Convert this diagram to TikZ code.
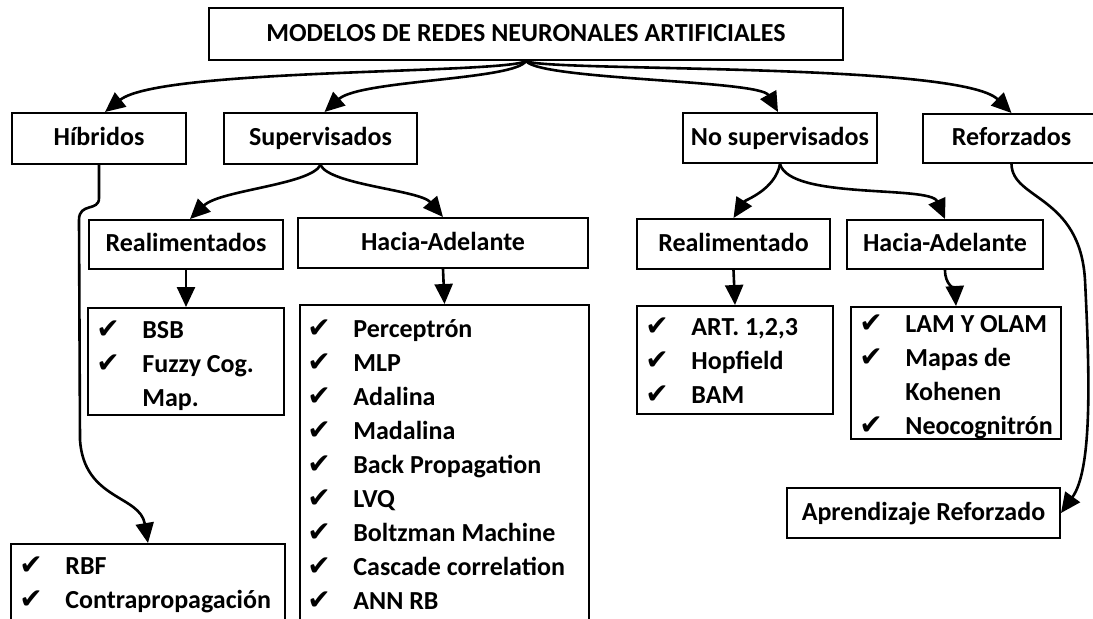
\documentclass[tikz,border=0pt]{standalone}
\usepackage{fontspec}
\setmainfont{Carlito}
\newfontfamily\chkfont{DejaVu Sans}
\usepackage{tikz}
\usetikzlibrary{arrows.meta, positioning}
\tikzstyle{block} = [draw, rectangle, line width=1pt, inner sep=0pt,
    text height=9.5pt, text depth=2.5pt,
    font=\bfseries\fontsize{13}{17}\selectfont]
\tikzstyle{listbox} = [draw, rectangle, line width=1pt, inner sep=0pt,
    anchor=north west]
\tikzstyle{itemtext} = [anchor=base west, inner sep=0pt, text width=140pt,
    align=flush left, font=\bfseries\fontsize{13}{17}\selectfont]
\tikzstyle{conn} = [line width=1.3pt, -{Triangle[length=10pt, width=9pt]}]
\newcommand{\ck}{\makebox[23pt][l]{\chkfont\fontsize{14}{14}\selectfont ✔}}
\newcommand{\nock}{\makebox[23pt]{}}

\begin{document}
\begin{tikzpicture}[x=0.5pt, y=-0.5pt]
        \useasboundingbox (0,0) rectangle (1093,618);
        \clip (0,0) rectangle (1093,618);

        \node[block, name=title, minimum width=317pt, minimum height=26pt] at (526,34) {MODELOS DE REDES NEURONALES ARTIFICIALES};

        \node[block, name=hib, minimum width=87pt, minimum height=25.5pt] at (99,138.5) {Híbridos};
        \node[block, name=sup, minimum width=96.5pt, minimum height=25.5pt] at (320.5,138.5) {Supervisados};
        \node[block, name=nosup, minimum width=97pt, minimum height=25pt] at (780,138) {No supervisados};
        \node[block, name=ref, minimum width=88.5pt, minimum height=24.5pt] at (1011.5,138.5) {Reforzados};

        \node[block, name=realS, minimum width=97pt, minimum height=24.5pt] at (186,244.5) {Realimentados};
        \node[block, name=adelS, minimum width=145pt, minimum height=25pt] at (443,243) {Hacia-Adelante};
        \node[block, name=realN, minimum width=96.5pt, minimum height=25pt] at (733.5,244) {Realimentado};
        \node[block, name=adelN, minimum width=98pt, minimum height=24.5pt] at (945,244.5) {Hacia-Adelante};

        \node[listbox, name=bsb, minimum width=98pt, minimum height=53.5pt] at (87,307) {};
        \node[listbox, name=perc, minimum width=144.5pt, minimum height=170pt] at (299,304) {};
        \node[listbox, name=rbf, minimum width=137pt, minimum height=60pt] at (10,543) {};
        \node[listbox, name=art, minimum width=98pt, minimum height=54pt] at (636,305) {};
        \node[listbox, name=lam, minimum width=105pt, minimum height=66pt] at (850,306) {};
        \node[block, name=apr, minimum width=136.5pt, minimum height=25pt] at (923.5,513) {Aprendizaje Reforzado};

        \node[itemtext, name=bsbtext] at ([shift={(4.5pt,-15.5pt)}]bsb.north west) {\ck BSB\\ \ck Fuzzy Cog.\\ \nock Map.};
        \node[itemtext, name=perctext] at ([shift={(4pt,-16.5pt)}]perc.north west) {\ck Perceptrón\\ \ck MLP\\ \ck Adalina\\ \ck Madalina\\ \ck Back Propagation\\ \ck LVQ\\ \ck Boltzman Machine\\ \ck Cascade correlation\\ \ck ANN RB};
        \node[itemtext, name=rbftext] at ([shift={(4.5pt,-15.5pt)}]rbf.north west) {\ck RBF\\ \ck Contrapropagación};
        \node[itemtext, name=arttext] at ([shift={(4.5pt,-15pt)}]art.north west) {\ck ART. 1,2,3\\ \ck Hopfield\\ \ck BAM};
        \node[itemtext, name=lamtext] at ([shift={(4.5pt,-13pt)}]lam.north west) {\ck LAM Y OLAM\\ \ck Mapas de\\ \nock Kohenen\\ \ck Neocognitrón};

        \draw[conn] (title.south) .. controls (505,74) and (160,68) .. ([xshift=3pt]hib.north);
        \draw[conn] (title.south) .. controls (515,80) and (360,80) .. ([xshift=2pt]sup.north);
        \draw[conn] (title.south) .. controls (540,80) and (760,80) .. ([xshift=-1pt]nosup.north);
        \draw[conn] (title.south) .. controls (545,72) and (960,62) .. (ref.north);

        \draw[conn] (sup.south) .. controls (310,185) and (220,190) .. ([xshift=2pt]realS.north);
        \draw[conn] (sup.south) .. controls (330,185) and (420,190) .. (adelS.north);
        \draw[conn] (nosup.south) .. controls (775,190) and (745,200) .. (realN.north);
        \draw[conn] (nosup.south) .. controls (790,200) and (930,185) .. (adelN.north);

        \draw[conn] (realS.south) -- (bsb.north);
        \draw[conn] (adelS.south) -- (perc.north);
        \draw[conn] (realN.south) -- (art.north);
        \draw[conn] (adelN.south) .. controls (945,285) and (955,290) .. (lam.north);

        \draw[conn] (hib.south) -- (99,198) .. controls (99,212) and (79,202) .. (79,220) -- (80,440) .. controls (84,500) and (140,495) .. (rbf.north);
        \draw[conn] (ref.south) .. controls (1012,200) and (1080,195) .. (1085,280) .. controls (1090,380) and (1092,470) .. (apr.east);
    \end{tikzpicture}
\end{document}
